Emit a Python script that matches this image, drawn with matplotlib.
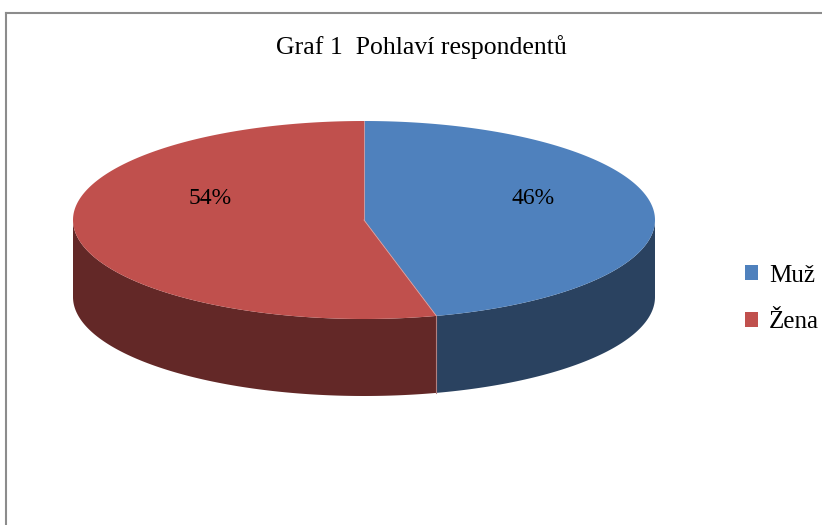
import numpy as np
import matplotlib
matplotlib.use('Agg')
import matplotlib.pyplot as plt
from matplotlib.patches import Polygon, Patch

# data
labels = ['Muž', 'Žena']
values = [46, 54]
top_colors = ['#4F81BD', '#C0504D']
side_colors = ['#2A4260', '#632827']

W, H = 822, 525
fig = plt.figure(figsize=(W / 100, H / 100), dpi=100)
ax = fig.add_axes([0, 0, 1, 1])
ax.set_xlim(0, W)
ax.set_ylim(H, 0)
ax.axis('off')

# frame of the chart area (cut off at right and bottom)
ax.plot([6, W + 5], [13, 13], color='#8c8c8c', lw=1.5)
ax.plot([6, 6], [13, H + 5], color='#8c8c8c', lw=1.5)

# ellipse geometry in pixels
cx, cy = 364, 220
a, b = 291, 99
depth = 77


def pt(t, dy=0):
    return cx + a * np.cos(t), cy - b * np.sin(t) + dy


fracs = np.array(values) / sum(values)
starts = np.pi / 2 - 2 * np.pi * np.concatenate([[0], np.cumsum(fracs)[:-1]])
ends = starts - 2 * np.pi * fracs

# side walls (only the front half is visible)
for s, e, col in zip(starts, ends, side_colors):
    lo, hi = max(e, -np.pi), min(s, 0)
    if lo >= hi:
        continue
    t = np.linspace(hi, lo, 200)
    xs, ys = pt(t)
    xb, yb = pt(t[::-1], depth)
    poly = np.column_stack([np.concatenate([xs, xb]), np.concatenate([ys, yb])])
    ax.add_patch(Polygon(poly, closed=True, facecolor=col, edgecolor='none'))

# top faces
for s, e, col in zip(starts, ends, top_colors):
    t = np.linspace(s, e, 300)
    xs, ys = pt(t)
    poly = np.column_stack([np.concatenate([[cx], xs]), np.concatenate([[cy], ys])])
    ax.add_patch(Polygon(poly, closed=True, facecolor=col, edgecolor='none'))

# slice borders
for s in starts:
    x0, y0 = pt(s)
    ax.plot([cx, x0], [cy, y0], color='#d9a0a0', lw=0.6)
    if np.sin(s) < 0:
        ax.plot([x0, x0], [y0, y0 + depth], color='#b08080', lw=0.8)

# percentage labels
label_pos = [(533, 199), (210, 199)]
for (lx, ly), v in zip(label_pos, values):
    ax.text(lx, ly, f'{v}%', fontsize=17, family='Liberation Serif',
            ha='center', va='center', color='black')

ax.text(421, 47, 'Graf 1  Pohlaví respondentů', fontsize=18.5,
        family='Liberation Serif', ha='center', va='center')

handles = [Patch(facecolor=c, edgecolor='none') for c in top_colors]
leg = ax.legend(handles, labels, loc='center left', bbox_to_anchor=(745 / W, 1 - 299 / H),
                frameon=False, prop={'family': 'Liberation Serif', 'size': 18},
                borderpad=0, borderaxespad=0,
                handlelength=0.52, handleheight=0.52, handletextpad=0.44, labelspacing=1.0)

fig.savefig('out.png', dpi=100)
